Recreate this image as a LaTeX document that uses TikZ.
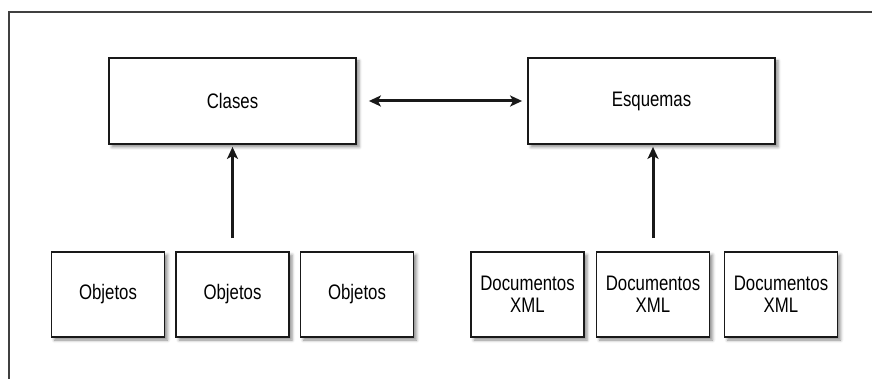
\documentclass[tikz,border=0pt]{standalone}
\usepackage{fontspec}
\setmainfont{Liberation Sans}[FakeStretch=0.8]
\usetikzlibrary{shadows.blur, arrows.meta}

\tikzset{
  tip/.tip={Stealth[length=12pt, width=11pt, inset=3pt]},
  box/.style={draw=black!90, line width=1.8pt, fill=white, inner sep=0pt,
    align=center, font=\fontsize{21}{22}\selectfont,
    blur shadow={shadow xshift=3pt, shadow yshift=-3pt,
      shadow blur radius=3pt, shadow opacity=45}},
  bigbox/.style={box, minimum width=247pt, minimum height=86pt},
  smallbox/.style={box, minimum width=113pt, minimum height=85pt},
  link/.style={line width=3pt, draw=black!90, -tip},
}

\begin{document}
\begin{tikzpicture}[x=1pt, y=-1pt]
  \useasboundingbox (0,0) rectangle (872,379);

  % frame (top and left edges)
  \draw[line width=1.1pt, draw=black!75] (9,379) -- (9,12) -- (872,12);

  % upper row
  \node[bigbox] (clases) at (232.5,101) {Clases};
  \node[bigbox] (esquemas) at (651.5,101) {Esquemas};

  % lower row: objects
  \node[smallbox] (obj1) at (108,294.5) {Objetos};
  \node[smallbox] (obj2) at (232.5,294.5) {Objetos};
  \node[smallbox] (obj3) at (357,294.5) {Objetos};

  % lower row: XML documents
  \node[smallbox] (doc1) at (527.5,294.5) {Documentos\\XML};
  \node[smallbox] (doc2) at (653,294.5) {Documentos\\XML};
  \node[smallbox] (doc3) at (781,294.5) {Documentos\\XML};

  % connectors
  \draw[link, tip-tip, shorten <=12pt, shorten >=5pt] (clases) -- (esquemas);
  \draw[link, shorten <=13pt, shorten >=2pt] (obj2) -- (clases);
  \draw[link, shorten <=13pt, shorten >=2pt] (doc2) -- (doc2 |- esquemas.south);
\end{tikzpicture}
\end{document}
